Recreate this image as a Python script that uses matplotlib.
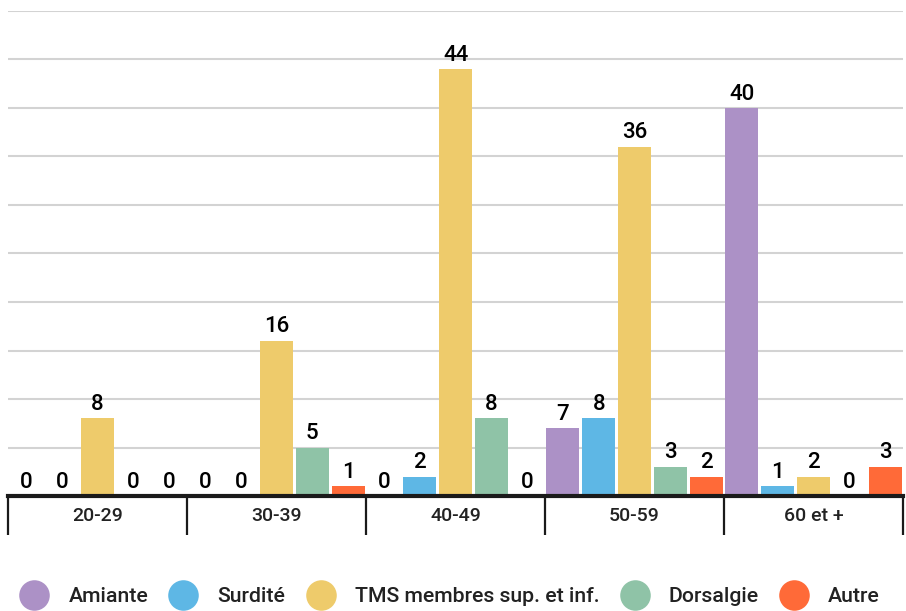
import numpy as np
import matplotlib
matplotlib.use('Agg')
import matplotlib.pyplot as plt
from matplotlib.lines import Line2D

# -- data
categories = ['20-29', '30-39', '40-49', '50-59', '60 et +']
series     = ['Amiante', 'Surdité', 'TMS membres sup. et inf.', 'Dorsalgie', 'Autre']
amiante    = [0, 0, 0, 7, 40]
surdite    = [0, 0, 2, 8, 1]
tms        = [8, 16, 44, 36, 2]
dorsalgie  = [0, 5, 8, 3, 0]
autre      = [0, 1, 0, 2, 3]
values     = [amiante, surdite, tms, dorsalgie, autre]

colors = ['#AC91C6', '#5EB7E5', '#EECB6B', '#8FC3A7', '#FF6A38']

plt.rcParams['font.family'] = ['Roboto', 'DejaVu Sans']
txtCol = '#222222'

fig = plt.figure(figsize=(9.06, 6.11), dpi=100)
ax = fig.add_axes([8/906, 1 - 496/611, 895/906, 485/611])

x = np.arange(len(categories))
slot = 0.2
for k, (name, vals) in enumerate(zip(series, values)):
    pos = x + (k - 2) * slot
    ax.bar(pos, vals, width=slot * 0.92, color=colors[k], zorder=3, label=name)
    for px, v in zip(pos, vals):
        ax.annotate(str(v), (px, v), xytext=(0, 2.5), textcoords='offset points',
                    ha='center', va='bottom', fontsize=16, fontweight='medium',
                    color='black', zorder=4)

ax.set_xlim(-0.5, len(categories) - 0.5)
ax.set_ylim(0, 50)
ax.set_yticks(np.arange(5, 51, 5))
ax.yaxis.grid(True, color='#D3D3D3', lw=1.5, zorder=0)
ax.tick_params(axis='y', length=0, labelleft=False)
for s in ['top', 'right', 'left']:
    ax.spines[s].set_visible(False)
ax.spines['bottom'].set_linewidth(3)
ax.spines['bottom'].set_color('#1a1a1a')
ax.spines['bottom'].set_zorder(5)

# -- category boxes under the axis
ax.set_xticks(x)
ax.set_xticklabels(categories, fontsize=14, fontweight='medium', color=txtCol)
ax.tick_params(axis='x', which='major', length=0, pad=8)
ax.set_xticks(np.arange(-0.5, len(categories), 1), minor=True)
ax.tick_params(axis='x', which='minor', length=28, width=1.6, color='#1a1a1a')

# -- legend
handles = [Line2D([], [], marker='o', ls='', ms=22, color=c, markeredgewidth=0) for c in colors]
leg = fig.legend(handles, series, loc='center', ncol=5, frameon=False,
                 prop={'size': 15.3, 'weight': 'medium'}, handlelength=1.3,
                 handletextpad=0.96, columnspacing=1.0,
                 bbox_to_anchor=(0.497, 1 - 597/611), labelcolor=txtCol)

fig.savefig('out.png', dpi=100)
